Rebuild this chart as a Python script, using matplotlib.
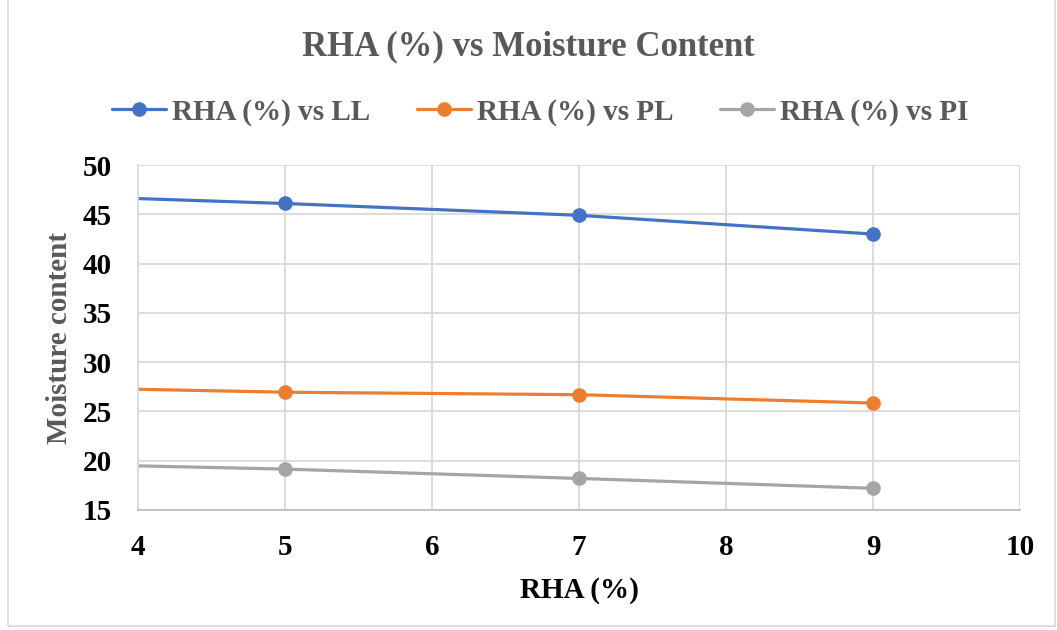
import matplotlib.pyplot as plt
from matplotlib.patches import Rectangle

# RHA content (%) and Atterberg limits (moisture content, %)
rha = [3, 5, 7, 9]
liquid_limit = [47.1, 46.1, 44.9, 43.0]
plastic_limit = [27.55, 26.95, 26.7, 25.85]
plasticity_index = [19.8, 19.15, 18.2, 17.2]

series_names = ['RHA (%) vs LL', 'RHA (%) vs PL', 'RHA (%) vs PI']
colors = ['#4472C4', '#ED7D31', '#A5A5A5']

x_ticks = [4, 5, 6, 7, 8, 9, 10]
y_ticks = [15, 20, 25, 30, 35, 40, 45, 50]

plt.rcParams['font.family'] = ['Liberation Serif', 'DejaVu Serif']
plt.rcParams['font.weight'] = 'bold'

fig = plt.figure(figsize=(10.57, 6.3), dpi=100)
ax = fig.add_axes([0.1306, 0.1905, 0.8344, 0.5475])

for vals, name, c in zip([liquid_limit, plastic_limit, plasticity_index], series_names, colors):
    ax.plot(rha, vals, color=c, linewidth=2.3, marker='o', markersize=9.5,
            label=name, clip_on=True, solid_capstyle='round')

ax.set_xlim(4, 10)
ax.set_ylim(15, 50)
ax.set_xticks(x_ticks)
ax.set_yticks(y_ticks)
ax.tick_params(length=0, labelsize=21)
for lbl in ax.get_xticklabels() + ax.get_yticklabels():
    lbl.set_fontweight('bold')
ax.tick_params(axis='x', pad=17)
ax.tick_params(axis='y', pad=19)

ax.grid(True, color='#d9d9d9', linewidth=1.3)
ax.set_axisbelow(True)
for side in ['top', 'right']:
    ax.spines[side].set_visible(False)
ax.spines['left'].set_color('#d9d9d9')
ax.spines['left'].set_linewidth(1.3)
ax.spines['bottom'].set_color('#bfbfbf')
ax.spines['bottom'].set_linewidth(1.3)

ax.set_xlabel('RHA (%)', fontsize=21, fontweight='bold', color='black', labelpad=12)
ax.set_ylabel('Moisture content', fontsize=21, fontweight='bold', color='#595959', labelpad=7)

fig.text(0.5, 0.925, 'RHA (%) vs Moisture Content', ha='center', va='center',
         fontsize=25, fontweight='bold', color='#595959')

leg = fig.legend(loc='center', bbox_to_anchor=(0.511, 0.822), ncol=3, frameon=False,
                 fontsize=21, handlelength=1.86, columnspacing=1.6, handletextpad=0.2)
for t in leg.get_texts():
    t.set_color('#595959')
    t.set_fontweight('bold')

# light frame around the chart area
fig.patches.append(Rectangle((0.008, 0.006), 0.99, 1.2, transform=fig.transFigure,
                             fill=False, edgecolor='#d9d9d9', linewidth=1.2))

fig.savefig('out.png', dpi=100)
